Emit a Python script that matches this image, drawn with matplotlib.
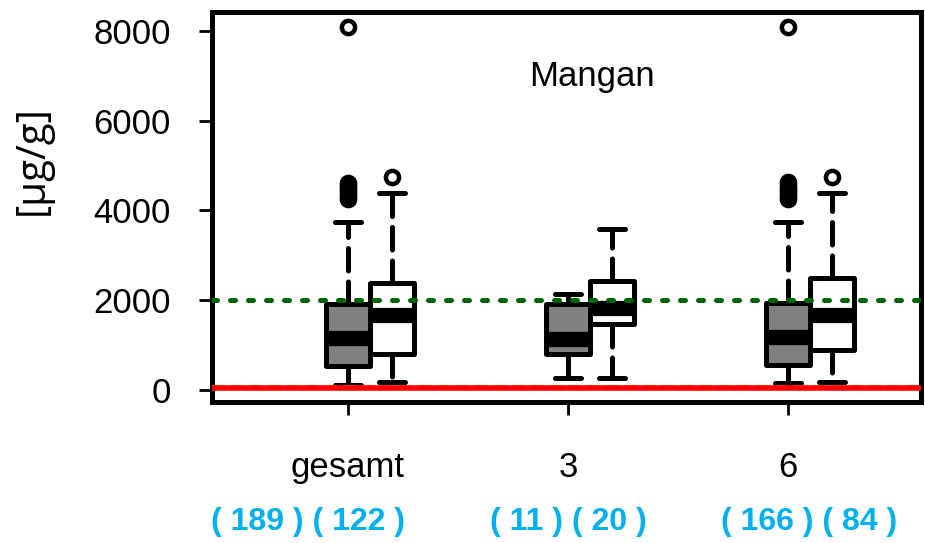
import matplotlib
matplotlib.use("Agg")
import matplotlib.pyplot as plt

plt.rcParams['font.family'] = ['Liberation Sans', 'DejaVu Sans']

# groups and counts
groups = ["gesamt", "3", "6"]
n_grey = [189, 11, 166]
n_white = [122, 20, 84]

# five-number summaries (grey = first series, white = second)
grey_q1 = [540, 790, 560]
grey_med = [1160, 1130, 1180]
grey_q3 = [1910, 1910, 1930]
grey_lo = [110, 270, 150]
grey_hi = [3740, 2140, 3740]
grey_fliers = [[4260, 4330, 4400, 4480, 4540, 4610, 8080], [],
               [4260, 4330, 4400, 4480, 4550, 4640, 8080]]

white_q1 = [800, 1470, 890]
white_med = [1670, 1830, 1670]
white_q3 = [2380, 2430, 2490]
white_lo = [180, 270, 180]
white_hi = [4390, 3590, 4390]
white_fliers = [[4750], [], [4750]]

# reference lines
limit_green = 2000
limit_red = 30
limit_orange = 60

title = "Mangan"
ylabel = "[µg/g]"
yticks = [0, 2000, 4000, 6000, 8000]


def make_stats(q1, med, q3, lo, hi, fliers):
    stats = []
    for i in range(len(q1)):
        stats.append(dict(q1=q1[i], med=med[i], q3=q3[i], whislo=lo[i],
                          whishi=hi[i], fliers=fliers[i]))
    return stats


def draw_boxes(ax, stats, positions, color):
    ax.bxp(stats, positions=positions, widths=0.2, capwidths=0.12,
           patch_artist=True, showfliers=True,
           boxprops=dict(facecolor=color, edgecolor="black", linewidth=3.6,
                         joinstyle="round"),
           medianprops=dict(color="black", linewidth=11, solid_capstyle="butt"),
           whiskerprops=dict(color="black", linewidth=3.6, linestyle=(0, (4.5, 2.2)),
                             dash_capstyle="round"),
           capprops=dict(color="black", linewidth=3.6, solid_capstyle="round"),
           flierprops=dict(marker="o", markerfacecolor="none", markeredgecolor="black",
                           markersize=9.5, markeredgewidth=3.2))


def main():
    fig = plt.figure(figsize=(9.25, 5.43), dpi=100)
    ax = fig.add_axes([0.229, 0.26, 0.767, 0.718])

    pos = [1, 2, 3]
    draw_boxes(ax, make_stats(grey_q1, grey_med, grey_q3, grey_lo, grey_hi, grey_fliers),
               pos, "#808080")
    draw_boxes(ax, make_stats(white_q1, white_med, white_q3, white_lo, white_hi, white_fliers),
               [p + 0.2 for p in pos], "white")

    ax.axhline(limit_orange, color="orange", linewidth=3, linestyle=(0, (3, 1.5)), zorder=5)
    ax.axhline(limit_red, color="red", linewidth=4, zorder=6)
    ax.axhline(limit_green, color="#006400", linewidth=3.6, linestyle=(0, (1, 2.6)),
               dash_capstyle="round", zorder=7)

    ax.set_xlim(0.382, 3.605)
    ax.set_ylim(-267, 8423)
    ax.set_yticks(yticks)
    ax.set_yticklabels([str(t) for t in yticks], fontsize=25)
    ax.set_xticks(pos)
    ax.set_xticklabels(groups, fontsize=25)
    ax.tick_params(axis="y", length=9.5, width=2, pad=20)
    ax.tick_params(axis="x", length=9.5, width=2, pad=26)
    for s in ax.spines.values():
        s.set_linewidth(3.6)

    ax.text(0.536, 0.835, title, transform=ax.transAxes, ha="center", va="center",
            fontsize=25)

    # sample counts below the group labels
    count_offset = [-0.18, 0.0, 0.095]
    for i in range(len(groups)):
        ax.text(pos[i] + count_offset[i], -0.308,
                "( %d ) ( %d )" % (n_grey[i], n_white[i]),
                transform=ax.get_xaxis_transform(), ha="center", va="center",
                fontsize=23, fontweight="bold", color="#00B0F0")

    fig.text(32 / 925, 1 - 160 / 543, ylabel, rotation=90, ha="center", va="center",
             fontsize=29, family=["Open Sans", "DejaVu Sans"])

    fig.savefig("out.png", dpi=100)


if __name__ == "__main__":
    main()
